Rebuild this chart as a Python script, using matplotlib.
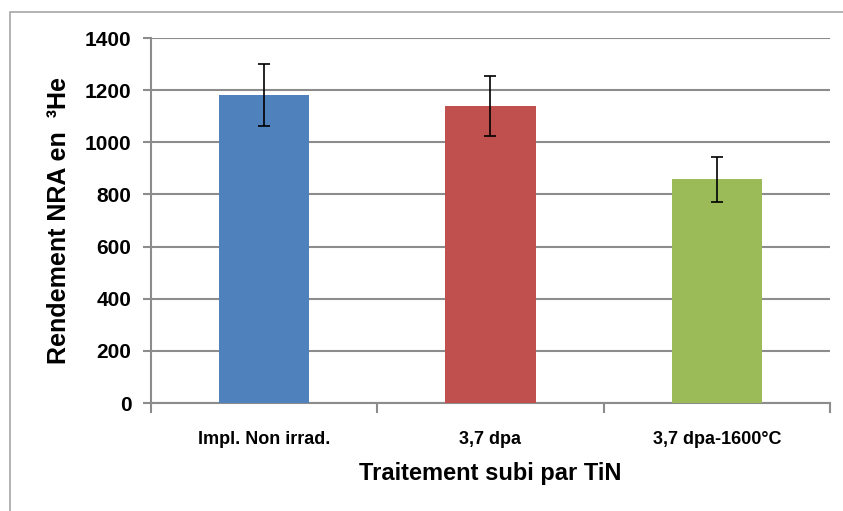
import matplotlib
matplotlib.use("Agg")
import matplotlib.pyplot as plt
from matplotlib.patches import Rectangle

# data
categories = ["Impl. Non irrad.", "3,7 dpa", "3,7 dpa-1600°C"]
rendement = [1183, 1141, 858]
erreur = [119, 115, 87]
couleurs = ["#4f81bd", "#c0504d", "#9bbb59"]
yticks = [0, 200, 400, 600, 800, 1000, 1200, 1400]

plt.rcParams['font.family'] = ['Liberation Sans', 'DejaVu Sans']
plt.rcParams['font.weight'] = 'bold'

fig = plt.figure(figsize=(8.43, 5.11), dpi=100)
# light frame of the chart area (only left and top visible)
fig.patches.append(Rectangle((10/843, -0.1), 1.2, 1 - 12/511 + 0.1, transform=fig.transFigure,
                             fill=False, edgecolor="#a6a6a6", linewidth=1.2))

ax = fig.add_axes([151/843, (511-403)/511, (830-151)/843, (403-38)/511])
x = list(range(len(categories)))
ax.bar(x, rendement, width=0.4, color=couleurs, zorder=3,
       yerr=erreur, capsize=4, error_kw=dict(ecolor="black", elinewidth=1.2, capthick=1.2))

ax.set_ylim(0, 1400)
ax.set_xlim(-0.5, 2.5)
ax.set_yticks(yticks)
ax.yaxis.grid(True, color="#8c8c8c", linewidth=1.5, zorder=0)
ax.set_axisbelow(True)
for s in ["top", "right"]:
    ax.spines[s].set_visible(False)
for s in ["left", "bottom"]:
    ax.spines[s].set_color("#8c8c8c")
    ax.spines[s].set_linewidth(1.5)

ax.set_xticks([-0.5, 0.5, 1.5, 2.5])
ax.set_xticklabels([])
ax.set_xticks(x, minor=True)
ax.set_xticklabels(categories, minor=True, fontsize=13, fontweight="bold")
ax.tick_params(axis="x", which="minor", length=0, pad=20)
ax.tick_params(axis="x", which="major", length=7, color="#8c8c8c", width=1.5)
ax.tick_params(axis="y", length=6, color="#8c8c8c", width=1.5, labelsize=15, pad=8)
for t in ax.get_yticklabels():
    t.set_fontweight("bold")

ax.set_xlabel("Traitement subi par TiN", fontsize=17, fontweight="bold", labelpad=10)
ax.set_ylabel("Rendement NRA en  ³He", fontsize=18, fontweight="bold", labelpad=10)

fig.savefig("out.png", dpi=100)
